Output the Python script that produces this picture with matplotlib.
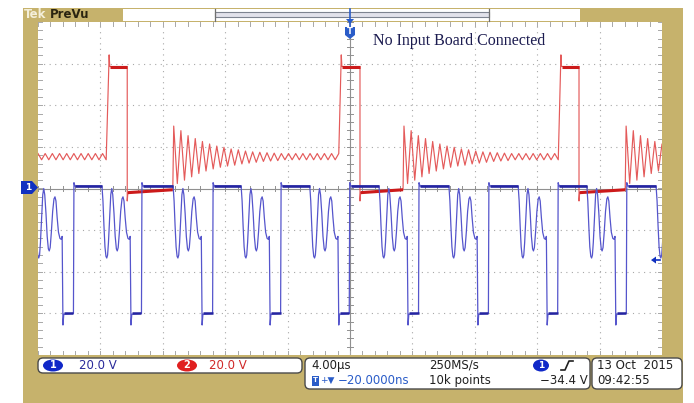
import numpy as np
import matplotlib.pyplot as plt
from matplotlib.patches import Rectangle, FancyBboxPatch, Ellipse, Polygon

# ---- trace data, in screen divisions (x 0..10, y -4..4) ----
# ch1 (blue): where each low pulse begins
ch1_low_starts = [0.40, 1.49, 2.63, 3.72, 4.82, 5.93, 7.05, 8.16, 9.26, 10.37]
# one ch1 cycle, offsets from the start of the low pulse
ch1_cycle_dt = [-0.465, -0.449, -0.433, -0.417, -0.401, -0.388, -0.375, -0.361,
                -0.341, -0.324, -0.308, -0.292, -0.272, -0.253, -0.234, -0.220,
                -0.205, -0.186, -0.165, -0.144, -0.128, -0.112, -0.093, -0.072,
                -0.048, -0.029, -0.013, 0.0, 0.013, 0.168, 0.176, 0.192]
ch1_cycle_v = [0.06, -0.30, -0.90, -1.40, -1.63, -1.67, -1.60, -1.30,
               -0.70, -0.15, 0.0, -0.15, -0.60, -1.15, -1.45, -1.50,
               -1.42, -1.05, -0.55, -0.25, -0.20, -0.30, -0.70, -1.05,
               -1.20, -1.22, -1.15, -3.28, -3.02, -3.00, 0.14, 0.06]
ch1_high = 0.06
ch1_low = -3.0

# ch2 (red)
ch2_rise = [1.14, 4.86, 8.38]
ch2_fall = [1.43, 5.16, 8.67]
ch2_ring = [2.16, 5.85, 9.41]
ch2_high = 2.93
ch2_spike = 3.21
ch2_undershoot = -0.30
ch2_low = [-0.10, -0.03]   # flat low part, start / end
ring_peaks = [1.50, 1.39, 1.27, 1.20, 1.13, 1.07, 1.02, 0.99, 0.95, 0.93,
              0.90, 0.88, 0.87, 0.86, 0.85]
ring_troughs = [0.12, 0.20, 0.28, 0.36, 0.42, 0.47, 0.51, 0.54, 0.56, 0.59,
                0.61, 0.63, 0.65, 0.66, 0.67]
ripple = [0.84, 0.69]
ring_period = 0.115

trig_level = -1.72

# ---- readouts ----
ch_scale = ['20.0 V', '20.0 V']
timebase = '4.00\u00b5s'
sample_rate = '250MS/s'
trig_pos = '\u221220.0000ns'
record_len = '10k points'
trig_volts = '\u221234.4 V'
date_str = '13 Oct  2015'
clock_str = '09:42:55'
message = 'No Input Board Connected'

TAN = '#C6B26C'
BLUE = '#2424A0'
BLUE_L = '#5555CC'
RED = '#CC1A1A'
RED_L = '#E45A5A'
GRID = '#A8A8A8'


def ring(t0, t1, first):
    ts, ys = [], []
    k = 0
    while t0 + k * ring_period / 2 < t1:
        n = first + k // 2
        if k % 2 == 0:
            v = ring_peaks[n] if n < len(ring_peaks) else ripple[0]
        else:
            v = ring_troughs[n] if n < len(ring_troughs) else ripple[1]
        ts.append(t0 + k * ring_period / 2)
        ys.append(v)
        k += 1
    return ts, ys


fig = plt.figure(figsize=(6.94, 4.03), dpi=100)
fig.patch.set_facecolor('white')

bg = fig.add_axes([0, 0, 1, 1], zorder=0)
bg.set_xlim(0, 694)
bg.set_ylim(403, 0)
bg.set_axis_off()
bg.add_patch(Rectangle((23, 8), 660, 395, facecolor=TAN, edgecolor='none'))

ax = fig.add_axes([38 / 694, 1 - 355 / 403, 624 / 694, 333 / 403], zorder=1)
ax.set_xlim(0, 10)
ax.set_ylim(-4, 4)
ax.set_facecolor('white')
ax.set_xticks([])
ax.set_yticks([])
for s in ax.spines.values():
    s.set_visible(False)

# graticule
for gx in range(1, 10):
    if gx != 5:
        ax.plot([gx, gx], [-4, 4], color=GRID, lw=0.8, ls=(0, (1, 4)))
for gy in range(-3, 4):
    if gy != 0:
        ax.plot([0, 10], [gy, gy], color=GRID, lw=0.8, ls=(0, (1, 4)))
ax.axhline(0, color='#909090', lw=0.8)
ax.axvline(5, color='#909090', lw=0.8)
for tx in np.arange(0, 10.01, 0.2):
    ax.plot([tx, tx], [-0.07, 0.07], color='#909090', lw=0.7)
    ax.plot([tx, tx], [4, 3.9], color=GRID, lw=0.7)
    ax.plot([tx, tx], [-4, -3.9], color=GRID, lw=0.7)
for ty in np.arange(-4, 4.01, 0.2):
    ax.plot([4.95, 5.05], [ty, ty], color='#909090', lw=0.7)
    ax.plot([0, 0.07], [ty, ty], color=GRID, lw=0.7)
    ax.plot([9.93, 10], [ty, ty], color=GRID, lw=0.7)

# ch1 trace
bt, bv = [], []
for L in ch1_low_starts:
    for dt, v in zip(ch1_cycle_dt, ch1_cycle_v):
        bt.append(L + dt)
        bv.append(v)
ax.plot(bt, bv, color=BLUE_L, lw=0.9, zorder=3)
for a, b in zip(ch1_low_starts[:-1], ch1_low_starts[1:]):
    ax.plot([a + ch1_cycle_dt[-1], b + ch1_cycle_dt[0]], [ch1_high, ch1_high],
            color=BLUE, lw=1.9, zorder=4, solid_capstyle='butt')
for L in ch1_low_starts:
    ax.plot([L + ch1_cycle_dt[28], L + ch1_cycle_dt[29]], [ch1_low, ch1_low],
            color=BLUE, lw=1.8, zorder=4, solid_capstyle='butt')

# ch2 trace
rt, rv = ring(0, ch2_rise[0], 99)
for i in range(len(ch2_rise)):
    end = ch2_rise[i + 1] if i + 1 < len(ch2_rise) else 10.2
    rt += [ch2_rise[i], ch2_rise[i] + 0.01, ch2_fall[i], ch2_fall[i],
           ch2_fall[i] + 0.01, ch2_ring[i]]
    rv += [ch2_spike, ch2_high, ch2_high, ch2_undershoot, ch2_low[0], ch2_low[1]]
    t, v = ring(ch2_ring[i] + 0.015, end, 0)
    rt += t
    rv += v
ax.plot(rt, rv, color=RED_L, lw=0.85, zorder=2)
for i in range(len(ch2_rise)):
    ax.plot([ch2_rise[i] + 0.01, ch2_fall[i]], [ch2_high, ch2_high],
            color=RED, lw=2.2, zorder=2, solid_capstyle='butt')
    ax.plot([ch2_fall[i] + 0.01, ch2_ring[i]], ch2_low,
            color=RED, lw=2.2, zorder=2, solid_capstyle='butt')

# ---- overlay in pixel coordinates ----
fg = fig.add_axes([0, 0, 1, 1], zorder=2)
fg.set_xlim(0, 694)
fg.set_ylim(403, 0)
fg.set_axis_off()

# top bar
fg.text(24, 15, 'Tek', color='#F4EFDA', fontsize=8.5, fontweight='bold', va='center')
fg.text(50, 15, 'PreVu', color='#2A2410', fontsize=8.5, fontweight='bold', va='center')
fg.add_patch(Rectangle((123, 9), 457, 12, facecolor='white', edgecolor='none'))
fg.add_patch(Rectangle((215, 12), 274, 5, facecolor='#E2E2EA', edgecolor='#7E8490', lw=0.8))
fg.plot([215, 215], [9, 21], color='#707070', lw=0.9)
fg.plot([489, 489], [9, 21], color='#707070', lw=0.9)
fg.plot([350, 350], [9, 28], color='#2A5CC8', lw=1.2)
fg.add_patch(Polygon([(346, 19), (354, 19), (350, 24)], facecolor='#2A5CC8', edgecolor='none'))
fg.add_patch(Polygon([(345, 27), (355, 27), (355, 35), (350, 39), (345, 35)],
                     facecolor='#2A5CC8', edgecolor='none'))
fg.text(350, 32, 'T', color='white', fontsize=6, fontweight='bold', ha='center', va='center')

fg.text(373, 41, message, color='#1C1C50', fontsize=11.5, family='Liberation Serif',
        va='center')

# ch1 ground marker and trigger level marker
fg.add_patch(Polygon([(21, 181), (32, 181), (38, 187.5), (32, 194), (21, 194)],
                     facecolor='#1030C0', edgecolor='none'))
fg.text(28, 187.5, '1', color='white', fontsize=6.5, fontweight='bold', ha='center', va='center')
ty_px = 188.5 - trig_level * 41.6
fg.add_patch(Polygon([(651, ty_px), (656, ty_px - 3.5), (656, ty_px + 3.5)],
                     facecolor='#1030C0', edgecolor='none'))
fg.plot([655, 660], [ty_px, ty_px], color='#1030C0', lw=1.2)

# readout boxes
for x0, w, h in [(38, 264, 15), (305, 285, 31), (592, 90, 31)]:
    fg.add_patch(FancyBboxPatch((x0, 358), w, h, boxstyle='round,pad=0,rounding_size=5',
                                facecolor='white', edgecolor='#4A4A4A', lw=1.0))

fs = 8.5
r1, r2 = 365.5, 380.5
fg.add_patch(Ellipse((53, r1), 20, 12, facecolor='#1028C8', edgecolor='none'))
fg.text(53, r1, '1', color='white', fontsize=7, fontweight='bold', ha='center', va='center')
fg.text(79, r1, ch_scale[0], color='#2A2A9A', fontsize=fs, va='center')
fg.add_patch(Ellipse((187, r1), 20, 12, facecolor='#E02020', edgecolor='none'))
fg.text(187, r1, '2', color='white', fontsize=7, fontweight='bold', ha='center', va='center')
fg.text(209, r1, ch_scale[1], color='#D02828', fontsize=fs, va='center')

fg.text(311, r1, timebase, color='#202020', fontsize=fs, va='center')
fg.text(429, r1, sample_rate, color='#202020', fontsize=fs, va='center')
fg.add_patch(Ellipse((541, r1), 16, 12, facecolor='#1028C8', edgecolor='none'))
fg.text(541, r1, '1', color='white', fontsize=6.5, fontweight='bold', ha='center', va='center')
fg.plot([561, 565, 569, 573], [370, 370, 361, 361], color='#202020', lw=1.2)

fg.add_patch(Rectangle((312, r2 - 5), 7, 10, facecolor='#2A5CC8', edgecolor='none'))
fg.text(315.5, r2, 'T', color='white', fontsize=5, fontweight='bold', ha='center', va='center')
fg.text(320, r2, '+\u25bc', color='#2A5CC8', fontsize=6.5, va='center')
fg.text(338, r2, trig_pos, color='#2A5CC8', fontsize=fs, va='center')
fg.text(429, r2, record_len, color='#202020', fontsize=fs, va='center')
fg.text(588, r2, trig_volts, color='#202020', fontsize=fs, ha='right', va='center')

fg.text(597, r1, date_str, color='#202020', fontsize=fs, va='center')
fg.text(597, r2, clock_str, color='#202020', fontsize=fs, va='center')

fig.savefig('out.png', dpi=100)
